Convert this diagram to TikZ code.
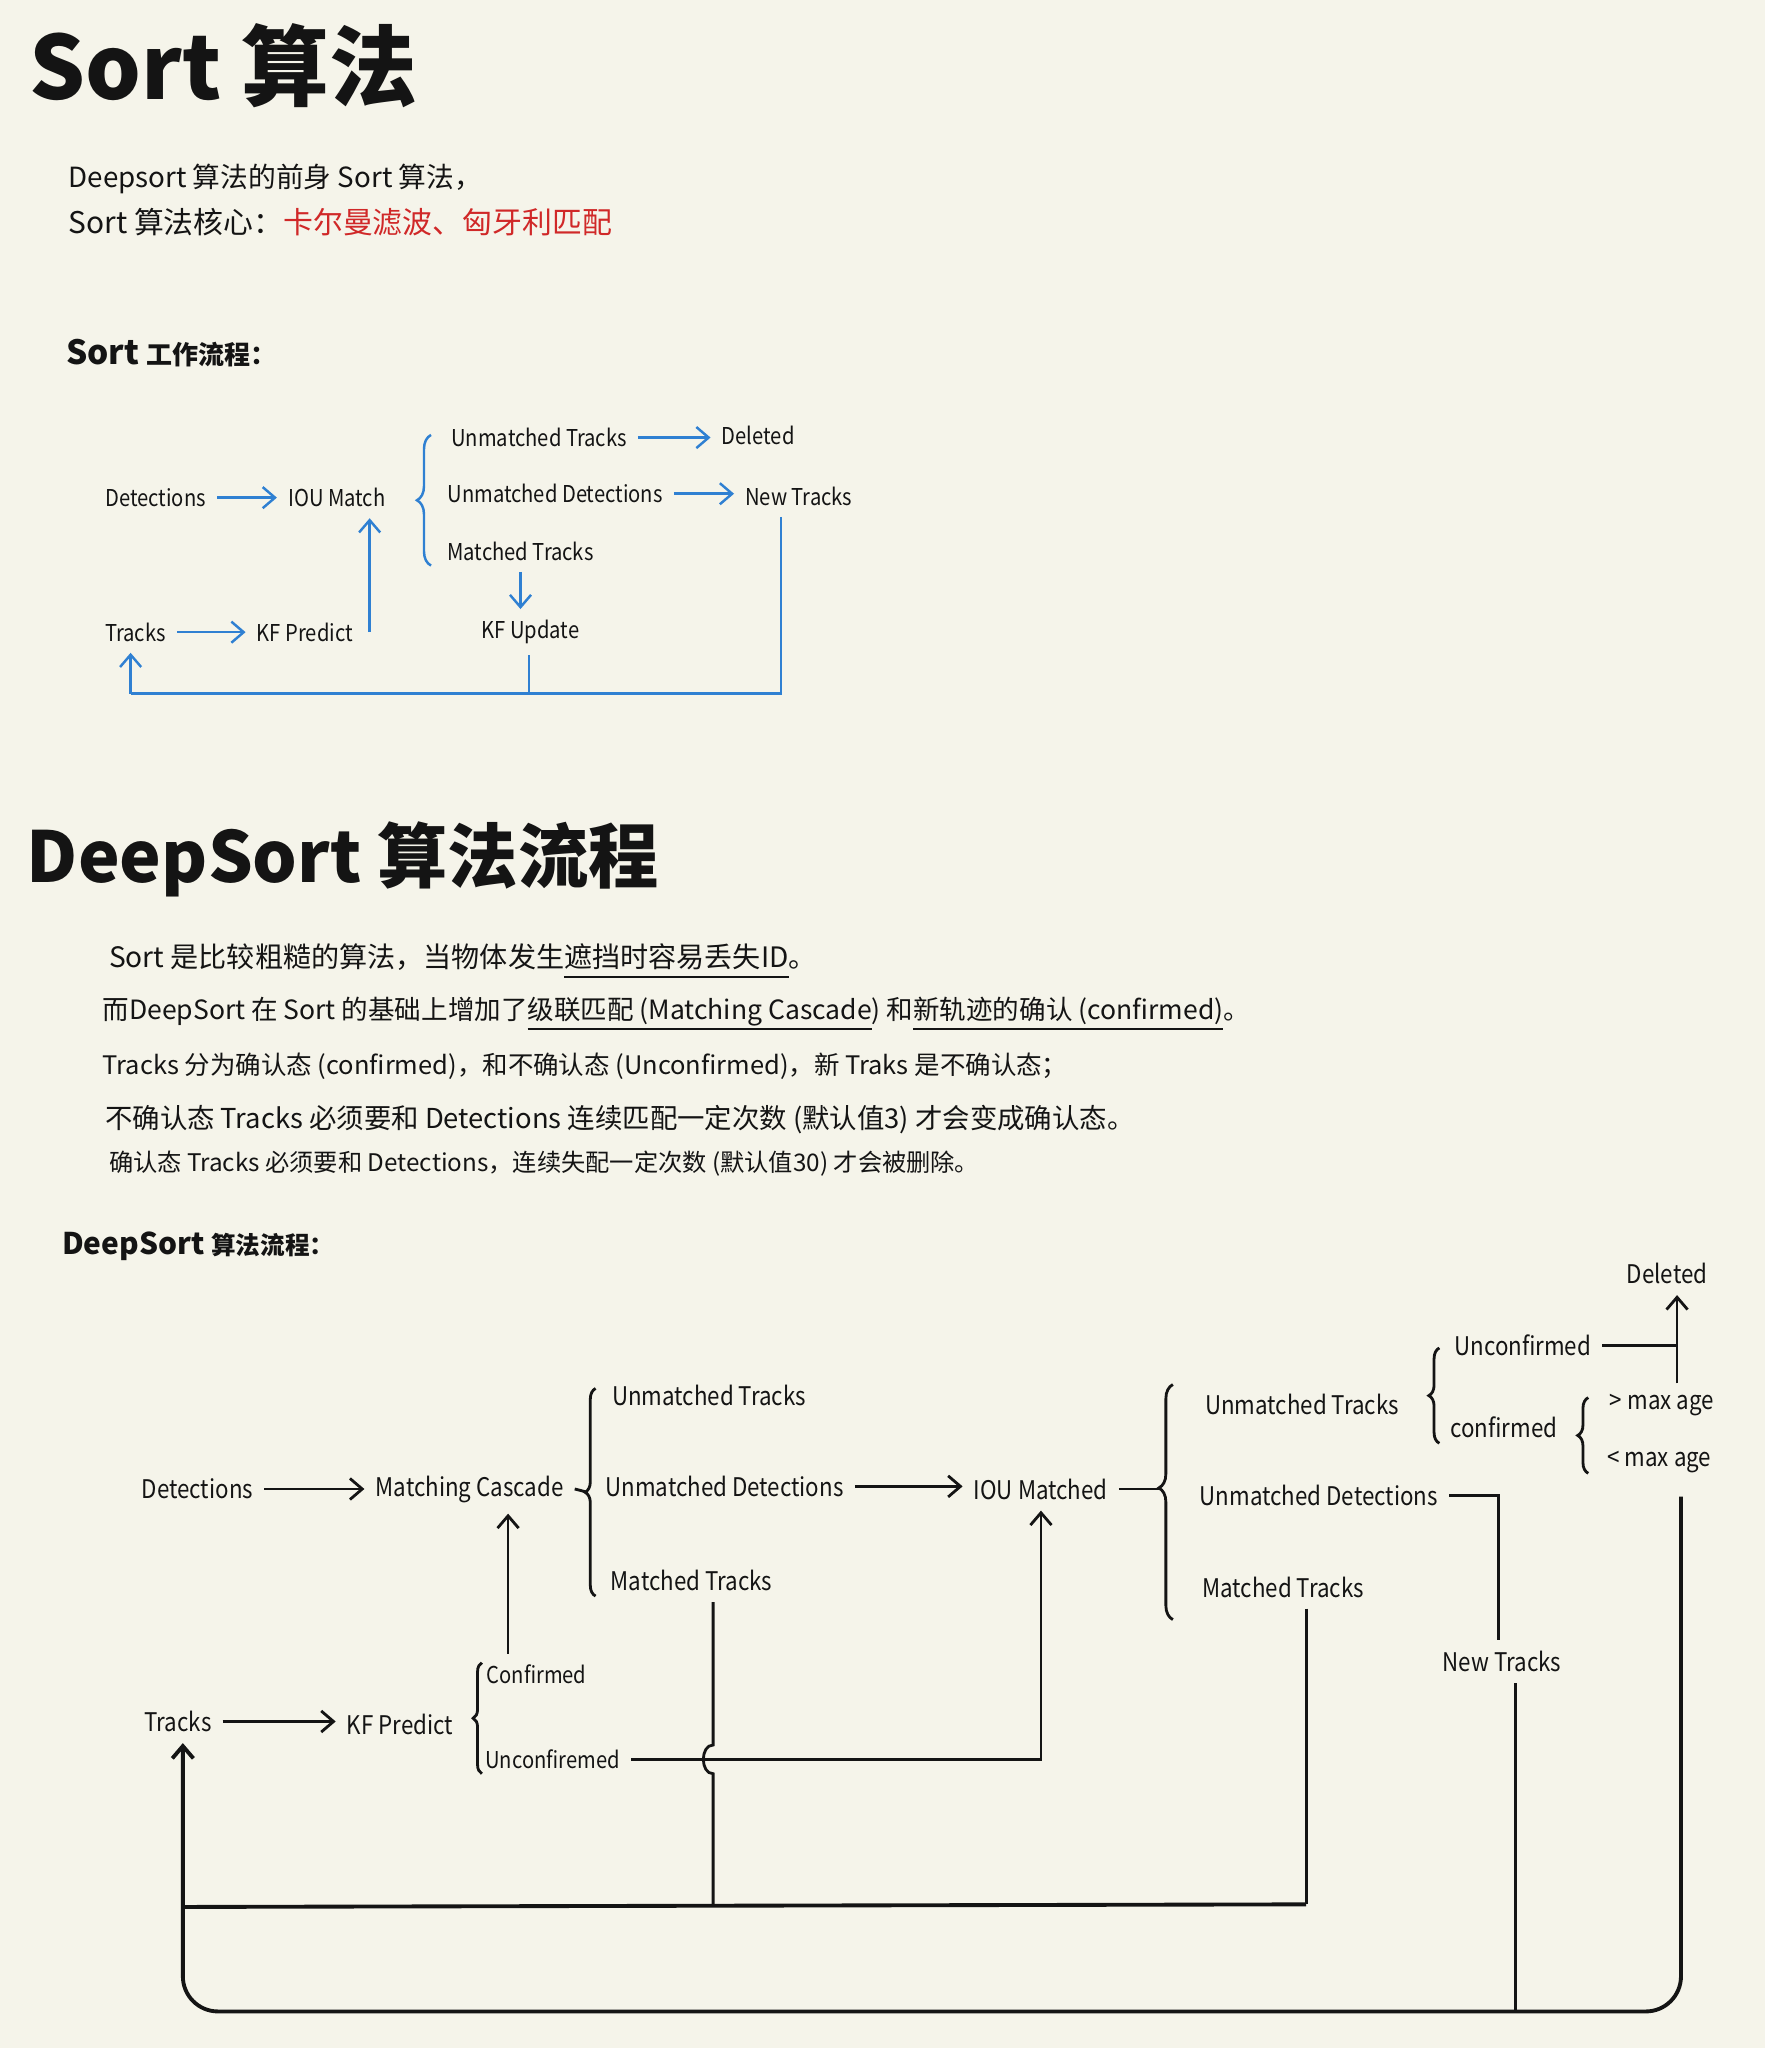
\documentclass[tikz,border=0pt]{standalone}
\usepackage{fontspec}
\setmainfont{Noto Sans CJK SC}
\newfontfamily\lblfont[FakeStretch=0.87]{Noto Sans CJK SC}
\usetikzlibrary{arrows.meta,decorations.pathreplacing,calc}

\definecolor{paper}{HTML}{F5F4EA}
\definecolor{ink}{HTML}{141414}
\definecolor{inkblue}{HTML}{2F80D2}
\definecolor{inkred}{HTML}{D02828}

% hand-style underline drawn a little below the baseline
\newsavebox\ulbox
\newcommand\hwul[1]{\sbox\ulbox{#1}\rlap{\rule[-3pt]{\wd\ulbox}{0.7pt}}\usebox\ulbox}

\tikzset{
  lbl/.style={font=\lblfont\fontsize{7.3}{9}\selectfont, inner xsep=3pt, inner ysep=3pt, anchor=west, text=ink},
  lblsm/.style={lbl, font=\lblfont\fontsize{6.6}{8}\selectfont},
  slbl/.style={font=\lblfont\fontsize{6.6}{8}\selectfont, inner xsep=3pt, inner ysep=3pt, anchor=west, text=ink},
  txt/.style={font=\fontsize{8}{10}\selectfont, inner sep=0pt, anchor=west, text=ink},
  wire/.style={draw=ink, line width=0.8pt},
  loopwire/.style={draw=ink, line width=1.1pt},
  bwire/.style={draw=inkblue, line width=0.7pt},
  arr/.style={-{Straight Barb[length=3.5pt,width=6pt]}},
  brc/.style={decorate, decoration={brace, amplitude=#1}},
  brc/.default=3pt,
}

\begin{document}
\begin{tikzpicture}[x=0.13064mm, y=-0.13064mm]
\fill[paper] (0,0) rectangle (1351,1568);
\useasboundingbox (0,0) rectangle (1351,1568);

% ---------- Sort ----------
\node[txt, font=\bfseries\fontsize{25}{30}\selectfont] (title1) at (22,50) {Sort 算法};
\node[txt, font=\fontsize{7.9}{10}\selectfont] (intro1) at (52,137) {Deepsort 算法的前身 Sort 算法，};
\node[txt, font=\fontsize{8.5}{10}\selectfont] (intro2) at (52,170) {Sort 算法核心：\textcolor{inkred}{卡尔曼滤波、匈牙利匹配}};
\node[txt, font=\bfseries\fontsize{9.5}{11}\selectfont] (head1) at (50,270) {Sort {\fontsize{7.4}{9}\selectfont 工作流程：}};

\node[slbl] (sdet) at (72,381) {Detections};
\node[slbl] (siou) at (212,381) {IOU Match};
\node[slbl] (sut)  at (337,335) {Unmatched Tracks};
\node[slbl] (sdel) at (544,333) {Deleted};
\node[slbl] (sud)  at (334,378) {Unmatched Detections};
\node[slbl] (snew) at (562,380) {New Tracks};
\node[slbl] (smt)  at (334,422) {Matched Tracks};
\node[slbl] (skfu) at (360,484) {KF Update};
\node[slbl] (str)  at (72,484) {Tracks};
\node[slbl] (skfp) at (188,484) {KF Predict};

\draw[bwire, brc=4pt] (330,433) -- (330,333);
\draw[bwire, arr] (sdet) -- (siou);
\draw[bwire, arr] (str) -- (skfp);
\draw[bwire, arr] (sut.east) -- (sut.east -| sdel.west);
\draw[bwire, arr] (sud.east) -- (sud.east -| snew.west);
\draw[bwire, arr] (smt.south) -- (smt.south |- skfu.north);
\coordinate (xkfp) at (283,0);
\draw[bwire, arr] (xkfp |- skfp.east) -- (xkfp |- siou.south);

\coordinate (sbl) at (100,531);
\coordinate (sbr) at (598,531);
\draw[bwire] (sbr |- snew.south) -- (sbr) -- (sbl);
\draw[bwire, arr] (sbl) -- (sbl |- str.south);
\coordinate (xkfu) at (405,0);
\draw[bwire] (xkfu |- skfu.south) -- (xkfu |- sbr);

% ---------- DeepSort ----------
\node[txt, font=\bfseries\fontsize{20}{24}\selectfont] (title2) at (20,658) {DeepSort 算法流程};

\node[txt] (p1) at (83,736) {Sort 是比较粗糙的算法，当物体发生\hwul{遮挡时容易丢失ID}。};
\node[txt, font=\fontsize{7.55}{10}\selectfont] (p2) at (78,776) {而DeepSort 在 Sort 的基础上增加了\hwul{级联匹配 (Matching Cascade}) 和\hwul{新轨迹的确认 (confirmed)}。};
\node[txt, font=\fontsize{7.25}{10}\selectfont] (p3) at (78,816) {Tracks 分为确认态 (confirmed)，和不确认态 (Unconfirmed)，新 Traks 是不确认态；};
\node[txt, font=\fontsize{7.8}{10}\selectfont] (p4) at (80,857) {不确认态 Tracks 必须要和 Detections 连续匹配一定次数 (默认值3) 才会变成确认态。};
\node[txt, font=\fontsize{6.9}{9}\selectfont] (p5) at (83,891) {确认态 Tracks 必须要和 Detections，连续失配一定次数 (默认值30) 才会被删除。};

\node[txt, font=\bfseries\fontsize{8.5}{10}\selectfont] (head2) at (47,954) {DeepSort {\fontsize{7}{9}\selectfont 算法流程：}};

\node[lbl] (ddet) at (100,1140) {Detections};
\node[lbl] (dmc)  at (279,1140) {Matching Cascade};
\node[lbl] (dut1) at (460,1068) {Unmatched Tracks};
\node[lbl] (dud1) at (455,1138) {Unmatched Detections};
\node[lbl] (dmt1) at (459,1210) {Matched Tracks};
\node[lbl] (diou) at (737,1140) {IOU Matched};
\node[lbl] (dut2) at (914,1075) {Unmatched Tracks};
\node[lbl] (dud2) at (910,1145) {Unmatched Detections};
\node[lbl] (dmt2) at (912,1215) {Matched Tracks};
\node[lbl] (dunc) at (1105,1030) {Unconfirmed};
\node[lbl] (dcon) at (1102,1093) {confirmed};
\node[lbl] (dgt)  at (1224,1076) {> max age};
\node[lbl] (dlt)  at (1222,1119) {< max age};
\node[lbl] (ddel) at (1237,975) {Deleted};
\node[lbl] (dnew) at (1096,1272) {New Tracks};
\node[lbl] (dtr)  at (102,1318) {Tracks};
\node[lbl] (dkfp) at (257,1320) {KF Predict};
\node[lblsm] (dc2) at (364,1282) {Confirmed};
\node[lblsm] (du2) at (363,1347) {Unconfiremed};

% braces
\draw[wire, brc=3pt] (456,1222) -- (456,1063);
\coordinate (b1tip) at (448,1142);
\draw[wire] (dmc.east) -- (b1tip);
\draw[wire, decorate, decoration={brace, amplitude=4pt, aspect=0.56}] (898,1240) -- (898,1060);
\coordinate (b2tip) at (887,1140);
\draw[wire] (diou.east) -- (b2tip);
\draw[wire, brc=3pt] (1102,1105) -- (1102,1032);
\draw[wire, brc=3pt] (1216,1128) -- (1216,1070);
\draw[wire, brc=2.5pt] (369,1358) -- (369,1273);

% forward arrows
\draw[wire, arr] (ddet) -- (dmc);
\draw[wire, arr] (dud1.east) -- (dud1.east -| diou.west);
\draw[wire, arr] (dtr.east) -- (dtr.east -| dkfp.west);

% confirmed tracks go into the matching cascade
\coordinate (xcon) at (389,0);
\draw[wire, arr] (xcon |- dc2.north) -- (xcon |- dmc.south);

% unconfirmed tracks go into IOU matching
\coordinate (xiou) at (797,0);
\draw[wire, arr] (du2.east) -- (du2.east -| xiou) -- (xiou |- diou.south);

% unmatched tracks to deleted
\coordinate (xdel) at (1284,0);
\draw[wire, arr] (xdel |- dgt.north) -- (xdel |- ddel.south);
\draw[wire] (dunc.east) -- (dunc.east -| xdel);

% unmatched detections become new tracks
\coordinate (xnew) at (1147,0);
\draw[wire] (dud2.east) -| (xnew |- dnew.north);

% feedback loops
\coordinate (obr) at (1287,1540);
\coordinate (obl) at (140,1540);
\coordinate (ibr) at (1000,1458);
\coordinate (ibl) at (140,1460);
\draw[loopwire, arr, rounded corners=10] ($(obr |- dlt.south)+(0,10)$) -- (obr) -- (obl) -- (obl |- dtr.south);
\coordinate (xnd) at (1160,0);
\draw[wire] (xnd |- dnew.south) -- (xnd |- obr);
\draw[wire] (ibr |- dmt2.south) -- (ibr);
\draw[loopwire] (ibr) -- (ibl);
\coordinate (xmt1) at (546,0);
\draw[wire] (xmt1 |- dmt1.south) -- (546,1336)
  .. controls (536,1336) and (536,1358) .. (546,1358) -- (546,1458);
\end{tikzpicture}
\end{document}
